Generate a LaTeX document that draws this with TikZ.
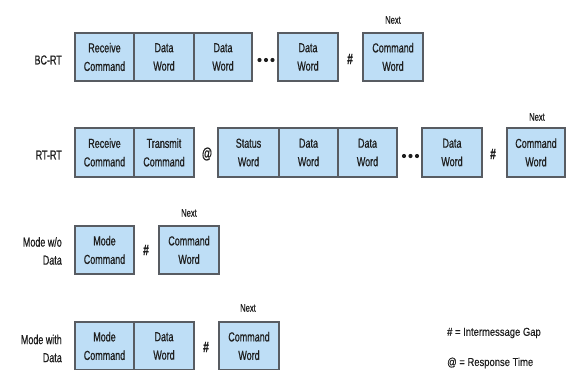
\documentclass[tikz,border=0pt]{standalone}
\usepackage{fontspec}
\setmainfont{Liberation Sans}[FakeStretch=0.69, FakeBold=0.6]
\newfontfamily\legendfont{Liberation Sans}[FakeStretch=0.82, FakeBold=0.3]
\definecolor{boxfill}{RGB}{190,222,246}
\definecolor{boxline}{RGB}{88,92,98}
\definecolor{inkgray}{RGB}{30,30,30}
\tikzset{
  wordbox/.style={draw=boxline, fill=boxfill, line width=1.1pt, inner sep=0pt,
    align=center, text=inkgray, minimum height=48pt,
    font=\fontsize{13}{18.5}\selectfont},
  rowlabel/.style={align=right, text=inkgray, anchor=east, inner sep=0pt,
    font=\fontsize{13}{18}\selectfont},
  gapmark/.style={text=inkgray, inner sep=0pt, font=\fontsize{15}{15}\selectfont\bfseries},
  nextlabel/.style={text=inkgray, inner sep=0pt, font=\fontsize{11}{12}\selectfont},
  legendtext/.style={text=inkgray, anchor=west, inner sep=0pt, font=\legendfont\fontsize{11.5}{12}\selectfont},
  dotmark/.style={fill=inkgray, draw=none, circle, inner sep=0pt, minimum size=4.2pt}
}
\begin{document}
\begin{tikzpicture}[x=1pt, y=-1pt]
\useasboundingbox (0,0) rectangle (566,370);

% ---- BC-RT ----
\node[rowlabel] (l1) at (62,60) {BC-RT};
\node[wordbox, minimum width=59pt] (a1) at (104.5,57) {Receive\\Command};
\node[wordbox, minimum width=60pt] (b1) at (164,57) {Data\\Word};
\node[wordbox, minimum width=58pt] (c1) at (223,57) {Data\\Word};
\node[dotmark] (d1x) at (259.5,60) {};
\node[dotmark] (d1y) at (266,60) {};
\node[dotmark] (d1z) at (272.5,60) {};
\node[wordbox, minimum width=60pt] (e1) at (308,57) {Data\\Word};
\node[gapmark] (g1) at (350,59) {\#};
\node[wordbox, minimum width=60pt] (f1) at (393,57) {Command\\Word};
\node[nextlabel] (n1) at (393,20) {Next};

% ---- RT-RT ----
\node[rowlabel] (l2) at (62,155) {RT-RT};
\node[wordbox, minimum width=59pt, minimum height=49pt] (a2) at (104.5,152.5) {Receive\\Command};
\node[wordbox, minimum width=60pt, minimum height=49pt] (b2) at (164,152.5) {Transmit\\Command};
\node[gapmark] (r2) at (207,154) {@};
\node[wordbox, minimum width=61pt, minimum height=49pt] (c2) at (248.5,152.5) {Status\\Word};
\node[wordbox, minimum width=59pt, minimum height=49pt] (d2) at (308.5,152.5) {Data\\Word};
\node[wordbox, minimum width=59pt, minimum height=49pt] (e2) at (367.5,152.5) {Data\\Word};
\node[dotmark] (d2x) at (404,156) {};
\node[dotmark] (d2y) at (410.5,156) {};
\node[dotmark] (d2z) at (417,156) {};
\node[wordbox, minimum width=60pt, minimum height=49pt] (f2) at (452,152.5) {Data\\Word};
\node[gapmark] (g2) at (493,154) {\#};
\node[wordbox, minimum width=58pt, minimum height=49pt] (h2) at (536,152.5) {Command\\Word};
\node[nextlabel] (n2) at (537,117) {Next};

% ---- Mode without data ----
\node[rowlabel] (l3) at (62,251) {Mode w/o\\Data};
\node[wordbox, minimum width=59pt] (a3) at (104.5,250) {Mode\\Command};
\node[gapmark] (g3) at (146,250) {\#};
\node[wordbox, minimum width=60pt] (b3) at (189,250) {Command\\Word};
\node[nextlabel] (n3) at (189,213) {Next};

% ---- Mode with data ----
\node[rowlabel] (l4) at (62,348.5) {Mode with\\Data};
\node[wordbox, minimum width=59pt] (a4) at (104.5,346) {Mode\\Command};
\node[wordbox, minimum width=60pt] (b4) at (164,346) {Data\\Word};
\node[gapmark] (g4) at (206,347) {\#};
\node[wordbox, minimum width=60pt] (c4) at (249,346) {Command\\Word};
\node[nextlabel] (n4) at (248,308) {Next};

% ---- legend ----
\node[legendtext] (k1) at (447,333) {\# = Intermessage Gap};
\node[legendtext] (k2) at (447,363) {@ = Response Time};
\end{tikzpicture}
\end{document}
